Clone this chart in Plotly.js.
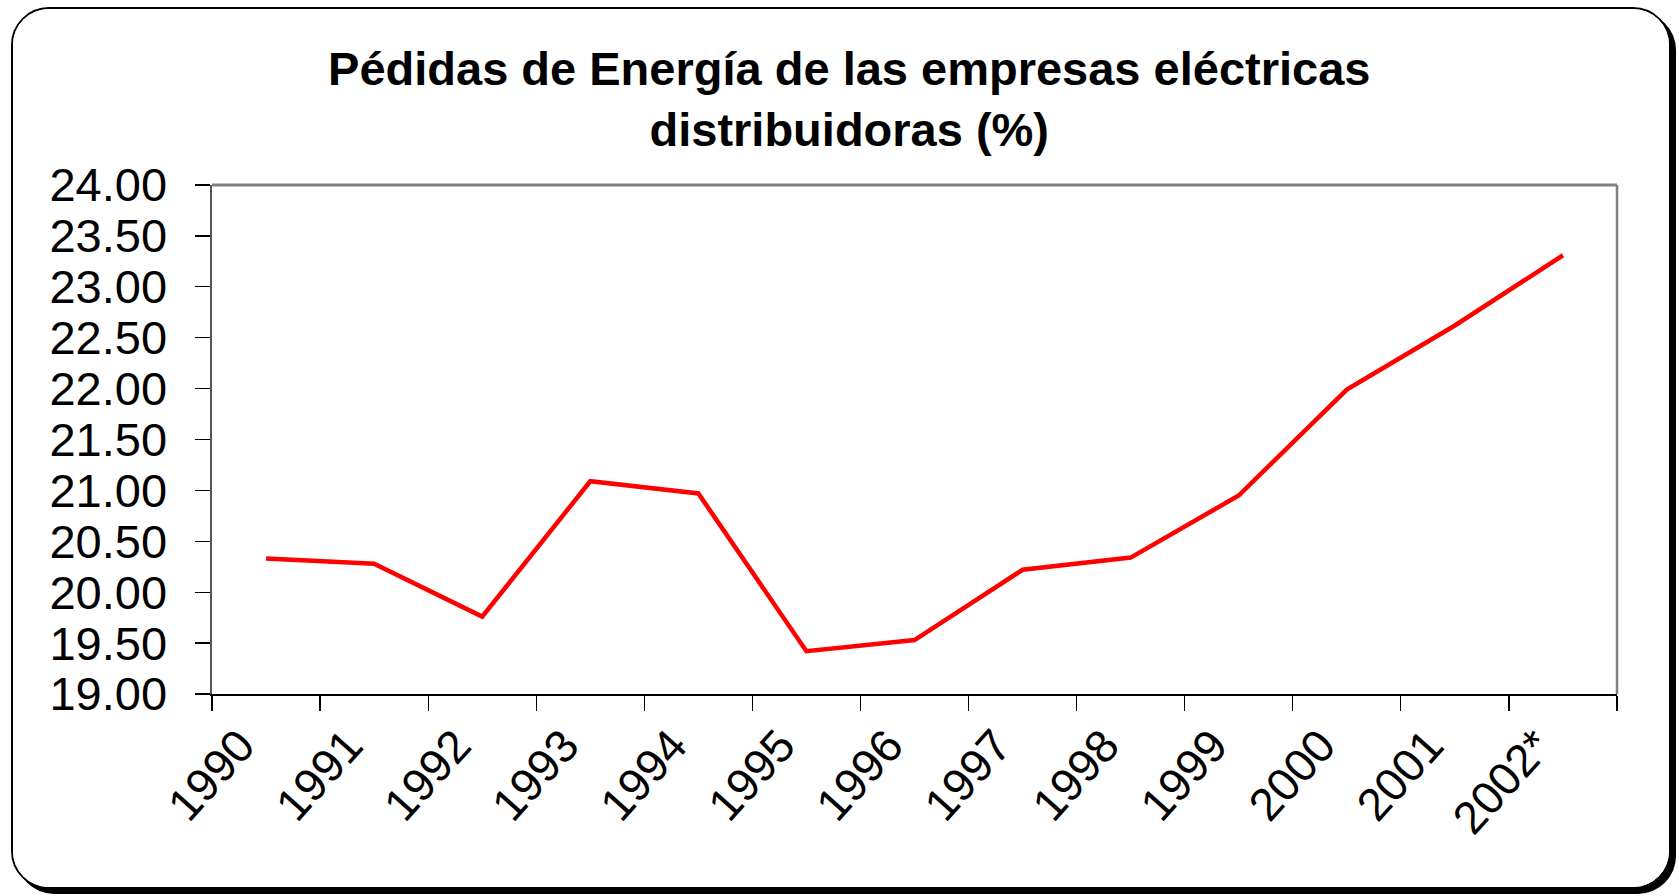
<!DOCTYPE html>
<html>
<head>
<meta charset="utf-8">
<script src="https://cdn.plot.ly/plotly-3.0.1.min.js"></script>
<style>
  html, body { margin: 0; padding: 0; background: #ffffff; width: 1679px; height: 896px; overflow: hidden; }
  #frame {
    position: absolute; left: 11px; top: 7px;
    width: 1656px; height: 878px;
    border: 2px solid #000; border-radius: 38px;
    box-shadow: 5px 5px 0 #000;
    background: #fff; overflow: hidden;
  }
  #chart { width: 1656px; height: 878px; }
</style>
</head>
<body>
<div id="frame"><div id="chart"></div></div>
<script>
const years = ["1990","1991","1992","1993","1994","1995","1996","1997","1998","1999","2000","2001","2002*"];
const lossesPct = [20.33, 20.28, 19.76, 21.09, 20.97, 19.42, 19.53, 20.22, 20.34, 20.95, 21.99, 22.62, 23.31];
const yTickVals = [19, 19.5, 20, 20.5, 21, 21.5, 22, 22.5, 23, 23.5, 24];
const chartTitle = "Pédidas de Energía de las empresas eléctricas<br>distribuidoras (%)";

const trace = {
  x: years,
  y: lossesPct,
  type: "scatter",
  mode: "lines",
  line: { color: "#ff0000", width: 4.5 },
  hoverinfo: "x+y"
};

const layout = {
  width: 1656, height: 878,
  paper_bgcolor: "#ffffff",
  plot_bgcolor: "#ffffff",
  showlegend: false,
  margin: { l: 199, r: 52, t: 176, b: 193 },
  font: { family: "Liberation Sans, Arial, sans-serif", color: "#000" },
  title: {
    text: chartTitle,
    font: { family: "Liberation Sans, Arial, sans-serif", size: 47, color: "#000", weight: "bold" },
    x: 0.505, xanchor: "center",
    y: 0.914, yanchor: "middle"
  },
  xaxis: {
    type: "category",
    range: [-0.5, 12.5],
    tickangle: -48,
    tickson: "boundaries",
    ticks: "outside", ticklen: 15, tickwidth: 1.2, tickcolor: "#000",
    showline: true, linecolor: "#000", linewidth: 2,
    showgrid: false, zeroline: false,
    tickfont: { size: 46, family: "Liberation Sans, Arial, sans-serif", color: "#000" },
    ticklabelstandoff: 4,
    ticklabelshift: -26
  },
  yaxis: {
    range: [19, 24],
    tickvals: yTickVals,
    tickformat: ".2f",
    ticks: "outside", ticklen: 15, tickwidth: 1.2, tickcolor: "#000",
    showline: true, linecolor: "#555", linewidth: 2.5,
    showgrid: false, zeroline: false,
    tickfont: { size: 47, family: "Liberation Sans, Arial, sans-serif", color: "#000" },
    ticklabelstandoff: 18
  },
  shapes: [
    { type: "line", xref: "paper", yref: "paper", x0: 0, x1: 1, y0: 1, y1: 1,
      line: { color: "#808080", width: 3 } },
    { type: "line", xref: "paper", yref: "paper", x0: 1, x1: 1, y0: 0, y1: 1,
      line: { color: "#808080", width: 2.5 } }
  ]
};

Plotly.newPlot("chart", [trace], layout, { displayModeBar: false, staticPlot: true });
</script>
</body>
</html>
